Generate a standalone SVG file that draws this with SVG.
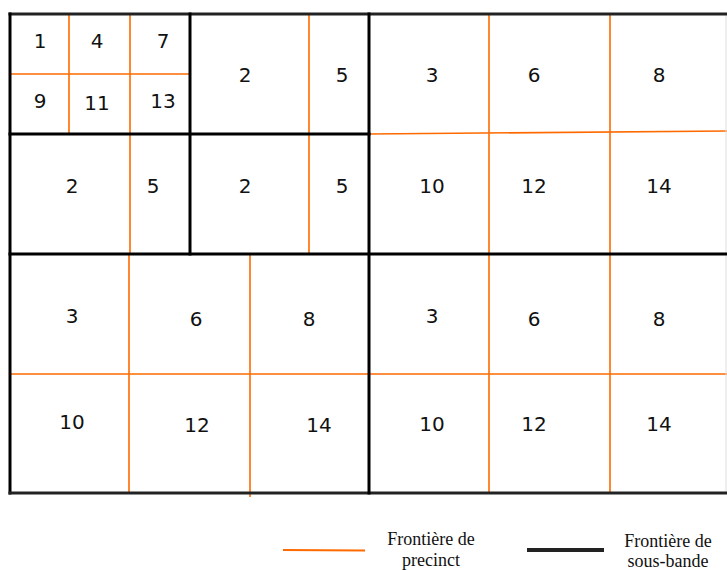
<svg xmlns="http://www.w3.org/2000/svg" width="727" height="570" viewBox="0 0 727 570">
<style>
.p{stroke:#ff6a00;stroke-width:1.6;fill:none}
.s{stroke:#000;stroke-width:3;fill:none;stroke-linecap:square}
.t{font-family:"DejaVu Sans",sans-serif;font-size:20px;fill:#111;text-anchor:middle}
.l{font-family:"Liberation Serif",serif;font-size:18px;fill:#111;text-anchor:middle}
</style>
<rect width="727" height="570" fill="#fff"/>
<g id="precinct-lines">
<line class="p" x1="10" y1="74" x2="189" y2="74"/>
<line class="p" x1="69" y1="14" x2="69" y2="133"/>
<line class="p" x1="130" y1="14" x2="130" y2="253"/>
<line class="p" x1="309" y1="14" x2="309" y2="253"/>
<line class="p" x1="370" y1="134" x2="727" y2="131"/>
<line class="p" x1="489" y1="14" x2="489" y2="493"/>
<line class="p" x1="610" y1="14" x2="610" y2="493"/>
<line class="p" x1="129" y1="254" x2="129" y2="493"/>
<line class="p" x1="250" y1="254" x2="250" y2="497"/>
<line class="p" x1="10" y1="374" x2="727" y2="374"/>
</g>
<g id="subband-lines">
<line x1="726" y1="14" x2="726" y2="493" stroke="#ddd" stroke-width="1"/>
<line class="s" x1="10" y1="14" x2="727" y2="14" style="stroke:#222"/>
<line class="s" x1="10" y1="14" x2="10" y2="493"/>
<line class="s" x1="10" y1="493" x2="727" y2="493" style="stroke:#222"/>
<line class="s" x1="369" y1="14" x2="369" y2="493"/>
<line class="s" x1="10" y1="254" x2="727" y2="254"/>
<line class="s" x1="10" y1="134" x2="369" y2="134"/>
<line class="s" x1="190" y1="14" x2="190" y2="254"/>
</g>
<g id="labels">
<text class="t" x="40" y="48">1</text>
<text class="t" x="97" y="48">4</text>
<text class="t" x="163" y="48">7</text>
<text class="t" x="40" y="108">9</text>
<text class="t" x="97" y="110">11</text>
<text class="t" x="163" y="108">13</text>
<text class="t" x="245" y="82">2</text>
<text class="t" x="342" y="82">5</text>
<text class="t" x="432" y="82">3</text>
<text class="t" x="534" y="82">6</text>
<text class="t" x="659" y="82">8</text>
<text class="t" x="72" y="193">2</text>
<text class="t" x="153" y="193">5</text>
<text class="t" x="245" y="193">2</text>
<text class="t" x="342" y="193">5</text>
<text class="t" x="432" y="193">10</text>
<text class="t" x="534" y="193">12</text>
<text class="t" x="659" y="193">14</text>
<text class="t" x="72" y="323">3</text>
<text class="t" x="196" y="326">6</text>
<text class="t" x="309" y="326">8</text>
<text class="t" x="432" y="323">3</text>
<text class="t" x="534" y="326">6</text>
<text class="t" x="659" y="326">8</text>
<text class="t" x="72" y="429">10</text>
<text class="t" x="197" y="432">12</text>
<text class="t" x="319" y="432">14</text>
<text class="t" x="432" y="431">10</text>
<text class="t" x="534" y="431">12</text>
<text class="t" x="659" y="431">14</text>
</g>
<g id="legend">
<line x1="283" y1="550" x2="365" y2="550.5" stroke="#ff6a00" stroke-width="2"/>
<line x1="527" y1="550" x2="604" y2="550" stroke="#222" stroke-width="4"/>
<text class="l" x="431" y="545">Frontière de</text>
<text class="l" x="431" y="566">precinct</text>
<text class="l" x="668" y="547">Frontière de</text>
<text class="l" x="668" y="567">sous-bande</text>
</g>
</svg>
